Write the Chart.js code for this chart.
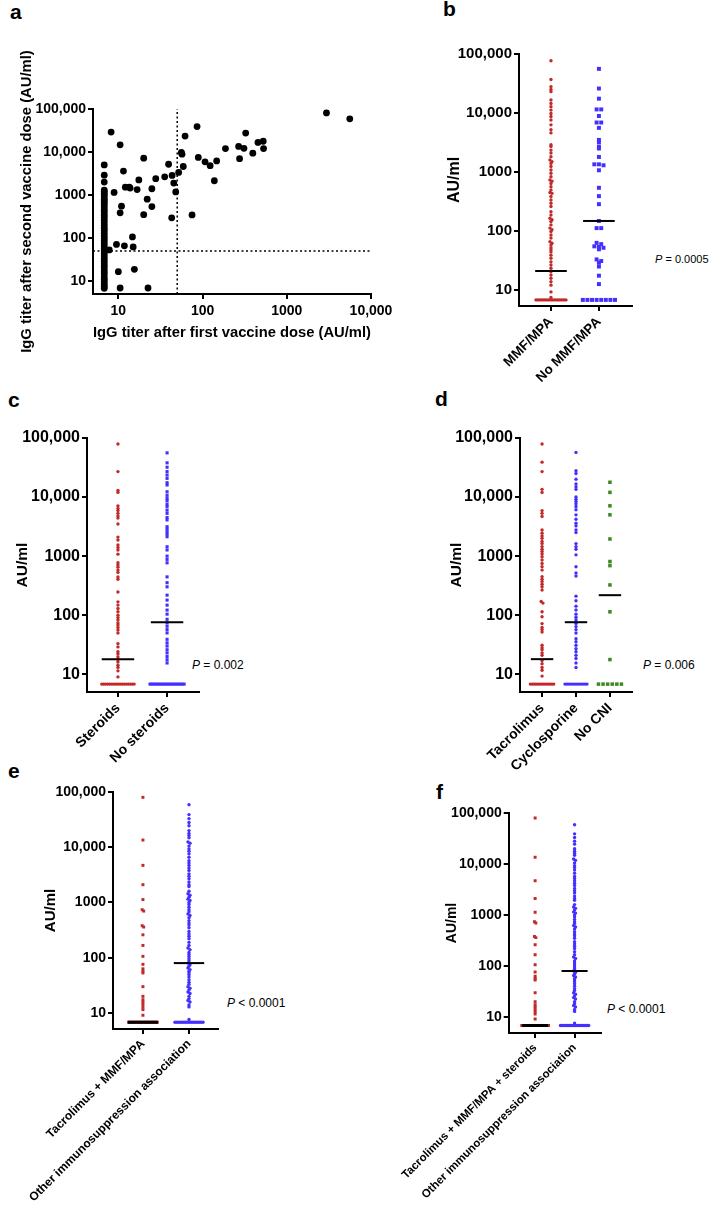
<!DOCTYPE html>
<html>
<head>
<meta charset="utf-8">
<script src="https://cdn.jsdelivr.net/npm/chart.js@4.4.1/dist/chart.umd.min.js"></script>
<style>
  body { margin: 0; background: #fff; width: 714px; height: 1206px; position: relative; overflow: hidden;
         font-family: "Liberation Sans", Arial, sans-serif; color: #000; }
  canvas { position: absolute; }
  .tag { position: absolute; font-weight: bold; font-size: 21px; line-height: 1; }
  .pv { position: absolute; font-size: 12px; line-height: 1; white-space: nowrap; }
</style>
</head>
<body>
<div class="tag" style="left:10px;top:1px">a</div>
<div class="tag" style="left:443px;top:-2px">b</div>
<div class="tag" style="left:8px;top:389px">c</div>
<div class="tag" style="left:435px;top:388px">d</div>
<div class="tag" style="left:8px;top:760px">e</div>
<div class="tag" style="left:436px;top:781px">f</div>

<div class="pv" style="left:655px;top:254px;font-size:11px"><i>P</i> = 0.0005</div>
<div class="pv" style="left:192px;top:659px"><i>P</i> = 0.002</div>
<div class="pv" style="left:643px;top:659px"><i>P</i> = 0.006</div>
<div class="pv" style="left:227px;top:997px"><i>P</i> &lt; 0.0001</div>
<div class="pv" style="left:607px;top:1003px"><i>P</i> &lt; 0.0001</div>

<canvas id="chartA" width="400" height="370" style="left:0;top:0"></canvas>
<canvas id="chartB" width="274" height="390" style="left:440px;top:0"></canvas>
<canvas id="chartC" width="360" height="380" style="left:0;top:390px"></canvas>
<canvas id="chartD" width="274" height="380" style="left:440px;top:390px"></canvas>
<canvas id="chartE" width="360" height="446" style="left:0;top:760px"></canvas>
<canvas id="chartF" width="354" height="426" style="left:360px;top:780px"></canvas>

<script>
// ---- data ----
const yTicks = [10, 100, 1000, 10000, 100000];
const xTicksA = [10, 100, 1000, 10000];
const cutoff = 50;

// panel a: titer after 1st dose (x) vs after 2nd dose (y)
const aDose1 = [
  6.8, 6.8, 6.8, 6.8, 6.8, 6.8, 6.8, 6.8, 6.8, 6.8, 6.8, 6.8, 6.8, 6.8, 6.8,
  6.8, 6.8, 6.8, 6.8, 6.8, 6.8, 6.8, 6.8, 6.8, 6.8, 6.8, 6.8, 6.8, 6.8, 6.8,
  6.8, 6.8, 6.8, 6.8, 6.8, 6.8, 6.8, 6.8, 6.8, 6.8, 6.8, 6.8, 6.8, 6.8, 6.8,
  2960, 5600, 8.2, 10.5, 86, 62, 325, 56, 57, 187, 268, 310, 455, 525, 530,
  395, 275, 89, 107, 123, 147, 138, 75, 59, 52, 39.5, 43.5, 35.5, 27.8, 45.5,
  48, 43, 20, 11.5, 8.9, 12.1, 13.5, 13.8, 16.7, 17.5, 22, 25, 25, 10.9, 10.5,
  20, 9.5, 11.8, 14.7, 15, 15.5, 10, 10.5, 22.5, 7.8
];
const aDose2 = [
  5000, 2900, 2000, 1300, 1200, 1100, 1000, 900, 800, 720, 640, 570, 500, 440, 390,
  340, 300, 260, 225, 195, 170, 150, 130, 112, 98, 86, 75, 65, 57, 50,
  44, 38, 33, 29, 25, 22, 19, 16.5, 14.5, 12.5, 11, 9.7, 8.5, 7.6, 6.8,
  81000, 59000, 29000, 14700, 39000, 23500, 27500, 9800, 8900, 12000, 13500, 12200, 16700, 17800, 12000,
  9400, 7000, 7500, 5900, 4800, 6200, 2150, 345, 4600, 3350, 5200, 2850, 2650, 2400, 1900,
  1180, 295, 7200, 3600, 1150, 1520, 1520, 1450, 1340, 2240, 800, 1400, 540, 550, 385,
  350, 71, 66, 106, 62, 18.7, 16.5, 6.9, 6.9, 53
];

// panel b
const bLabels = ['MMF/MPA', 'No MMF/MPA'];
const bMmf = [
  77000, 37000, 28000, 25000, 23000, 16600, 14500, 12800, 11200, 9800, 8700, 7600, 6300, 5200, 4600,
  2900, 2700, 2350, 2100, 1820, 1600, 1500, 1400, 1240, 1080, 950, 830, 730, 700, 640, 565, 495,
  450, 435, 385, 335, 295, 260, 213, 187, 165, 155, 145, 127, 112, 105, 98, 86, 76, 66, 62, 58,
  52, 48, 44, 39, 34.5, 30, 26.6, 23.4, 20.5, 18, 15.8, 13.8, 12.1, 9.3, 7.5,
  6.8, 6.8, 6.8, 6.8, 6.8, 6.8, 6.8, 6.8, 6.8, 6.8, 6.8, 6.8, 6.8, 6.8, 6.8, 6.8
];
const bNoMmf = [
  56000, 26000, 17500, 11500, 11500, 8900, 6900, 6900, 5600, 3500, 3200, 2700, 2500, 1800,
  1350, 1350, 1300, 1070, 540, 390, 285, 148, 112, 112, 63, 60, 55, 54, 52, 49, 33, 31, 29,
  25, 17.5, 12.6, 6.8, 6.8, 6.8, 6.8, 6.8, 6.8, 6.8, 6.8
];
const bMedians = [21, 148];

// panel c
const cLabels = ['Steroids', 'No steroids'];
const cSteroids = [
  79000, 27000, 12900, 12000, 7100, 6400, 5900, 5300, 4800, 4400, 3500, 2100, 1870, 1540, 1400,
  1270, 1080, 770, 710, 650, 580, 530, 445, 405, 247, 168, 148, 130, 114, 100, 91, 83, 74, 68,
  62, 56, 50, 33, 29, 24, 22, 19.6, 17.7, 16.1, 14.2, 13, 11.4, 9,
  6.8, 6.8, 6.8, 6.8, 6.8, 6.8, 6.8, 6.8, 6.8, 6.8, 6.8, 6.8, 6.8, 6.8, 6.8, 6.8, 6.8, 6.8
];
const cNoSteroids = [
  56000, 38000, 32000, 27000, 23600, 20700, 17500, 16000, 12300, 10700, 9500, 8700, 7600, 6900,
  6000, 5300, 4500, 4100, 3150, 2850, 2580, 2350, 2130, 1440, 1270, 1000, 880, 770, 445, 355,
  302, 218, 180, 148, 122, 104, 85, 74, 65, 57, 50, 39, 34, 30, 26, 23, 20, 17.6, 15.5,
  6.8, 6.8, 6.8, 6.8, 6.8, 6.8, 6.8, 6.8, 6.8, 6.8, 6.8, 6.8, 6.8, 6.8, 6.8, 6.8, 6.8, 6.8
];
const cMedians = [18, 76];

// panel d
const dLabels = ['Tacrolimus', 'Cyclosporine', 'No CNI'];
const dTacrolimus = [
  79000, 39000, 27000, 13500, 12000, 5900, 5300, 4700, 2760, 2450, 2200, 2000, 1770, 1630, 1450,
  1310, 1200, 1090, 980, 860, 750, 660, 580, 450, 405, 370, 335, 302, 267, 170, 160, 114, 94,
  72, 62, 57, 52, 31, 28, 26, 23, 21, 17, 15, 13, 11.7, 9.3,
  6.8, 6.8, 6.8, 6.8, 6.8, 6.8, 6.8, 6.8, 6.8, 6.8, 6.8, 6.8, 6.8, 6.8
];
const dCyclosporine = [
  57000, 28000, 25000, 20000, 16700, 15000, 13500, 10000, 9200, 8400, 7700, 6900, 6100, 5000,
  4200, 3600, 3250, 2760, 2500, 1630, 1450, 1310, 1050, 660, 520, 460, 210, 175, 142, 122, 104,
  92, 83, 72, 64, 57, 50, 40, 35.5, 31, 27, 24, 21, 18.5, 15.5, 13,
  6.8, 6.8, 6.8, 6.8, 6.8, 6.8, 6.8, 6.8, 6.8, 6.8, 6.8, 6.8
];
const dNoCni = [17800, 12000, 7100, 5000, 1950, 810, 690, 325, 114, 17.7, 6.8, 6.8, 6.8, 6.8, 6.8, 6.8];
const dMedians = [18, 76, 218];

// panel e
const eLabels = ['Tacrolimus + MMF/MPA', 'Other immunosuppression association'];
const eTacMmf = [
  80000, 13500, 4700, 2100, 1130, 740, 700, 380, 360, 260, 167, 106, 76, 63, 57, 53, 30, 20,
  17.4, 15.8, 14.3, 12.8, 11.5, 9.1,
  6.8, 6.8, 6.8, 6.8, 6.8, 6.8, 6.8, 6.8, 6.8, 6.8, 6.8, 6.8, 6.8, 6.8, 6.8, 6.8, 6.8, 6.8, 6.8, 6.8
];
const eOther = [
  59000, 39000, 33000, 28000, 24500, 20000, 17800, 16300, 14800, 12500, 11800, 10500, 9300, 8500,
  7600, 6600, 5700, 5200, 4700, 4200, 3800, 3300, 3000, 2700, 2350, 2100, 1950, 1600, 1440, 1350,
  1250, 1150, 1090, 1000, 920, 820, 740, 680, 620, 580, 530, 470, 425, 390, 350, 300, 270, 245,
  220, 190, 167, 150, 140, 125, 115, 105, 96, 88, 80, 75, 70, 65, 61, 57, 53, 49, 45, 40, 36,
  33, 30, 28, 26, 24, 22.5, 20, 18.2, 16.8, 15.8, 14, 12.9, 7.6,
  6.8, 6.8, 6.8, 6.8, 6.8, 6.8, 6.8, 6.8, 6.8, 6.8, 6.8, 6.8, 6.8, 6.8, 6.8
];
const eMedians = [6.8, 80];

// panel f
const fLabels = ['Tacrolimus + MMF/MPA + steroids', 'Other immunosuppression association'];
const fTacMmfSteroids = [
  80000, 13500, 4700, 2100, 1130, 740, 700, 380, 360, 260, 167, 106, 76, 63, 57, 53, 30, 20,
  17.4, 15.8, 14.3, 12.8, 11.5, 9.1,
  6.8, 6.8, 6.8, 6.8, 6.8, 6.8, 6.8, 6.8, 6.8, 6.8, 6.8, 6.8, 6.8, 6.8, 6.8, 6.8, 6.8, 6.8, 6.8, 6.8
];
const fOther = [
  59000, 39000, 33000, 28000, 24500, 20000, 17800, 16300, 14800, 12500, 11800, 10500, 9300, 8500,
  7600, 6600, 5700, 5200, 4700, 4200, 3800, 3300, 3000, 2700, 2350, 2100, 1950, 1600, 1440, 1350,
  1250, 1150, 1090, 1000, 920, 820, 740, 680, 620, 580, 530, 470, 425, 390, 350, 300, 270, 245,
  220, 190, 167, 150, 140, 125, 115, 105, 96, 88, 80, 75, 70, 65, 61, 57, 53, 49, 45, 40, 36,
  33, 30, 28, 26, 24, 22.5, 20, 18.2, 16.8, 15.8, 14, 12.9, 7.6,
  6.8, 6.8, 6.8, 6.8, 6.8, 6.8, 6.8, 6.8, 6.8, 6.8, 6.8, 6.8, 6.8, 6.8, 6.8, 6.8
];
const fMedians = [6.8, 80];

// ---- drawing ----
const FONT = '"Liberation Sans", Arial, sans-serif';
Chart.defaults.font.family = FONT;
Chart.defaults.color = '#000';
Chart.defaults.animation = false;

const RED = '#c22a2a';
const BLUE = '#4330ff';
const GREEN = '#3d8a22';

const fmt = (v) => (v >= 10000 ? v.toLocaleString('en-US') : String(v));

// spread equal/near values side by side like a dot plot
function swarm(values, idx, stepPx, spacingPx, tol) {
  const s = values.slice().sort((p, q) => q - p);
  const pts = [];
  let i = 0;
  while (i < s.length) {
    let j = i + 1;
    while (j < s.length && Math.log10(s[i] / s[j]) < tol) j++;
    const n = j - i;
    for (let k = 0; k < n; k++) {
      pts.push({ x: idx + ((k - (n - 1) / 2) * stepPx) / spacingPx, y: s[i + k] });
    }
    i = j;
  }
  return pts;
}

function axisStyle() {
  return {
    grid: { display: true, drawOnChartArea: false, drawTicks: true, tickLength: 5, color: '#000', lineWidth: 2 },
    border: { display: true, color: '#000', width: 2 },
  };
}

// canvas: {left, top, w, h}; area: page coordinates of the plot box
function frame(canvas, area) {
  return {
    padding: { top: area.t - canvas.top, right: canvas.left + canvas.w - area.r, left: 0, bottom: 0 },
    yFit: (s) => { s.width = area.l - canvas.left; },
    xFit: (s) => { s.height = canvas.top + canvas.h - area.b; },
  };
}

function dotPlot(id, p) {
  const f = frame(p.canvas, p.area);
  const n = p.labels.length;
  const datasets = p.groups.map((g, i) => ({
    type: 'scatter',
    data: swarm(g.values, i, g.step, p.spacing, p.tol),
    pointStyle: g.shape,
    pointRadius: g.radius,
    pointBackgroundColor: g.color,
    pointBorderWidth: 0,
    order: 1,
  }));
  p.medians.forEach((m, i) => {
    datasets.push({
      type: 'line',
      data: [{ x: i - 0.33, y: m }, { x: i + 0.33, y: m }],
      borderColor: '#000',
      borderWidth: p.medianWidth ? p.medianWidth[i] : 2,
      pointRadius: 0,
      order: 0,
    });
  });
  const x = axisStyle();
  const y = axisStyle();
  new Chart(document.getElementById(id), {
    type: 'scatter',
    data: { datasets },
    options: {
      responsive: false,
      layout: { padding: f.padding },
      plugins: { legend: { display: false }, tooltip: { enabled: false } },
      scales: {
        x: {
          ...x,
          type: 'linear',
          min: p.xMin,
          max: n - 1 + p.xMax,
          afterBuildTicks: (s) => { s.ticks = p.labels.map((_, i) => ({ value: i })); },
          afterFit: f.xFit,
          ticks: {
            minRotation: 45, maxRotation: 45, padding: 3, autoSkip: false,
            font: { size: p.catSize, weight: 'bold' },
            callback: (v) => p.labels[Math.round(v)],
          },
        },
        y: {
          ...y,
          type: 'logarithmic',
          min: p.yMin,
          max: 100000,
          afterBuildTicks: (s) => { s.ticks = yTicks.map((v) => ({ value: v })); },
          afterFit: f.yFit,
          ticks: { padding: 2, font: { size: p.tickSize, weight: 'bold' }, callback: fmt },
          title: { display: true, text: 'AU/ml', font: { size: p.titleSize, weight: 'bold' }, padding: { top: p.titlePad, bottom: 0 } },
        },
      },
    },
  });
}

// panel a
(function () {
  const canvas = { left: 0, top: 0, w: 400, h: 370 };
  const f = frame(canvas, { l: 93, t: 109, r: 371, b: 294 });
  const pts = aDose1.map((v, i) => ({ x: v, y: aDose2[i] }));
  const x = axisStyle();
  const y = axisStyle();
  new Chart(document.getElementById('chartA'), {
    type: 'scatter',
    data: {
      datasets: [
        { data: pts, pointRadius: 3.4, pointBackgroundColor: '#000', pointBorderWidth: 0, order: 1 },
        { type: 'line', data: [{ x: cutoff, y: 5 }, { x: cutoff, y: 100000 }], borderColor: '#000',
          borderWidth: 1.5, borderDash: [2, 2.5], pointRadius: 0, order: 0 },
        { type: 'line', data: [{ x: 5, y: cutoff }, { x: 10000, y: cutoff }], borderColor: '#000',
          borderWidth: 1.5, borderDash: [2, 2.5], pointRadius: 0, order: 0 },
      ],
    },
    options: {
      responsive: false,
      layout: { padding: f.padding },
      plugins: { legend: { display: false }, tooltip: { enabled: false } },
      scales: {
        x: {
          ...x,
          type: 'logarithmic',
          min: 5,
          max: 10000,
          afterBuildTicks: (s) => { s.ticks = xTicksA.map((v) => ({ value: v })); },
          afterFit: f.xFit,
          ticks: { padding: 4, maxRotation: 0, font: { size: 14, weight: 'bold' }, callback: fmt },
          title: { display: true, text: 'IgG titer after first vaccine dose (AU/ml)',
                   font: { size: 15.5, weight: 'bold' }, padding: { top: 0, bottom: 28 } },
        },
        y: {
          ...y,
          type: 'logarithmic',
          min: 5,
          max: 100000,
          afterBuildTicks: (s) => { s.ticks = yTicks.map((v) => ({ value: v })); },
          afterFit: f.yFit,
          ticks: { padding: 2, font: { size: 14, weight: 'bold' }, callback: fmt },
          title: { display: true, text: 'IgG titer after second vaccine dose (AU/ml)',
                   font: { size: 14.8, weight: 'bold' }, padding: { top: 18, bottom: 0 } },
        },
      },
    },
  });
})();

dotPlot('chartB', {
  canvas: { left: 440, top: 0, w: 274, h: 390 },
  area: { l: 519, t: 54, r: 632, b: 306 },
  labels: bLabels, spacing: 48, xMin: -0.667, xMax: 0.69, yMin: 5.36, tol: 0.03,
  tickSize: 15, catSize: 13.5, titleSize: 16, titlePad: 5,
  groups: [
    { values: bMmf, color: RED, shape: 'circle', radius: 1.7, step: 2 },
    { values: bNoMmf, color: BLUE, shape: 'rect', radius: 2.8, step: 4.6 },
  ],
  medians: bMedians,
});

dotPlot('chartC', {
  canvas: { left: 0, top: 390, w: 360, h: 380 },
  area: { l: 87, t: 438, r: 199, b: 692 },
  labels: cLabels, spacing: 49, xMin: -0.63, xMax: 0.65, yMin: 5, tol: 0.03,
  tickSize: 16, catSize: 14, titleSize: 15.5, titlePad: 13,
  groups: [
    { values: cSteroids, color: RED, shape: 'circle', radius: 1.7, step: 1.9 },
    { values: cNoSteroids, color: BLUE, shape: 'rect', radius: 2.2, step: 2 },
  ],
  medians: cMedians,
});

dotPlot('chartD', {
  canvas: { left: 440, top: 390, w: 274, h: 380 },
  area: { l: 520, t: 438, r: 632, b: 692 },
  labels: dLabels, spacing: 34, xMin: -0.65, xMax: 0.65, yMin: 5, tol: 0.03,
  tickSize: 16, catSize: 14, titleSize: 15.5, titlePad: 7,
  groups: [
    { values: dTacrolimus, color: RED, shape: 'circle', radius: 1.7, step: 1.8 },
    { values: dCyclosporine, color: BLUE, shape: 'circle', radius: 1.7, step: 2 },
    { values: dNoCni, color: GREEN, shape: 'rect', radius: 2.5, step: 4.6 },
  ],
  medians: dMedians,
});

dotPlot('chartE', {
  canvas: { left: 0, top: 760, w: 360, h: 446 },
  area: { l: 113, t: 792, r: 218, b: 1029 },
  labels: eLabels, spacing: 46, xMin: -0.65, xMax: 0.63, yMin: 5.13, tol: 0.03,
  tickSize: 14, catSize: 12, titleSize: 15, titlePad: 42,
  groups: [
    { values: eTacMmf, color: RED, shape: 'rect', radius: 2.1, step: 1.5 },
    { values: eOther, color: BLUE, shape: 'circle', radius: 1.7, step: 2 },
  ],
  medians: eMedians,
  medianWidth: [3, 2],
});

dotPlot('chartF', {
  canvas: { left: 360, top: 780, w: 354, h: 426 },
  area: { l: 503, t: 813, r: 601, b: 1033 },
  labels: fLabels, spacing: 42, xMin: -0.67, xMax: 0.67, yMin: 4.86, tol: 0.03,
  tickSize: 14, catSize: 11.5, titleSize: 14, titlePad: 78,
  groups: [
    { values: fTacMmfSteroids, color: RED, shape: 'rect', radius: 2.1, step: 1.5 },
    { values: fOther, color: BLUE, shape: 'circle', radius: 1.7, step: 2 },
  ],
  medians: fMedians,
  medianWidth: [3, 2],
});
</script>
</body>
</html>
